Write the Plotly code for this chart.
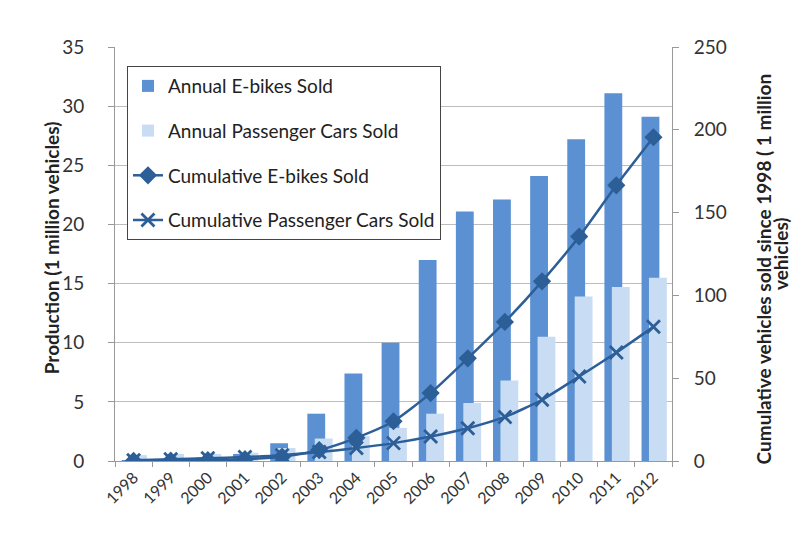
import plotly.graph_objects as go

years = [str(y) for y in range(1998, 2013)]
annual_ebikes = [0.05, 0.15, 0.3, 0.6, 1.5, 4.0, 7.4, 10.0, 17.0, 21.1, 22.1, 24.1, 27.2, 31.1, 29.1]
annual_cars = [0.5, 0.6, 0.6, 0.7, 1.1, 1.9, 2.1, 2.8, 4.0, 4.9, 6.8, 10.5, 13.9, 14.7, 15.5]
cum_ebikes = [0.05, 0.2, 0.5, 1.1, 2.6, 6.6, 14.0, 24.0, 41.0, 62.0, 84.0, 108.5, 135.5, 166.5, 195.5]
cum_cars = [0.5, 1.1, 1.7, 2.4, 3.5, 5.4, 7.8, 10.8, 14.8, 19.8, 26.6, 37.0, 51.0, 65.5, 81.0]

left_ticks = [0, 5, 10, 15, 20, 25, 30, 35]
right_ticks = [0, 50, 100, 150, 200, 250]

left_title = "Production (1 million vehicles)"
right_title_1 = "Cumulative vehicles sold since 1998 ( 1 million"
right_title_2 = "vehicles)"

dark_bar = "#5b90d2"
light_bar = "#c8dcf3"
line_col = "#2c5e98"
font_family = "Lato, 'Open Sans', sans-serif"

fig = go.Figure()
fig.add_trace(go.Bar(
    x=years, y=annual_ebikes, name="Annual E-bikes Sold",
    marker=dict(color=dark_bar, line=dict(width=0)),
    width=0.48, offset=-0.32, legendgroup="a", yaxis="y"))
fig.add_trace(go.Bar(
    x=years, y=annual_cars, name="Annual Passenger Cars Sold",
    marker=dict(color=light_bar, line=dict(width=0)),
    width=0.48, offset=-0.12, legendgroup="b", yaxis="y"))
fig.add_trace(go.Scatter(
    x=years, y=cum_ebikes, name="Cumulative E-bikes Sold", yaxis="y2",
    mode="lines+markers", line=dict(color=line_col, width=2.5, shape="spline", smoothing=0.6),
    marker=dict(symbol="diamond", size=14, color=line_col), legendgroup="c"))
fig.add_trace(go.Scatter(
    x=years, y=cum_cars, name="Cumulative Passenger Cars Sold", yaxis="y2",
    mode="lines+markers", line=dict(color=line_col, width=2.5, shape="spline", smoothing=0.6),
    marker=dict(symbol="x-thin", size=13, color=line_col, line=dict(color=line_col, width=2.8)),
    legendgroup="d"))

title_font = dict(family=font_family, size=19, color="#222222", weight="bold")
fig.add_annotation(text=left_title, xref="paper", yref="paper", x=-0.114, y=0.515,
                   textangle=-90, showarrow=False, font=title_font,
                   xanchor="center", yanchor="middle")
fig.add_annotation(text=right_title_1, xref="paper", yref="paper", x=1.165, y=0.465,
                   textangle=-90, showarrow=False, font=title_font,
                   xanchor="center", yanchor="middle")
fig.add_annotation(text=right_title_2, xref="paper", yref="paper", x=1.194, y=0.5,
                   textangle=-90, showarrow=False, font=title_font,
                   xanchor="center", yanchor="middle")

fig.update_layout(
    width=800, height=534,
    margin=dict(l=107, r=136, t=39, b=81, autoexpand=False),
    paper_bgcolor="white", plot_bgcolor="white",
    barmode="overlay",
    font=dict(family=font_family, color="#222222", size=15),
    showlegend=True,
    legend=dict(
        x=0.0215, y=0.954, xanchor="left", yanchor="top",
        bgcolor="white", bordercolor="#444444", borderwidth=1,
        font=dict(size=19, color="#222222"),
        tracegroupgap=17, traceorder="grouped",
        itemwidth=30,
    ),
    xaxis=dict(
        type="category", showgrid=False,
        showline=True, linecolor="#999999", linewidth=1,
        ticks="outside", tickson="boundaries", ticklen=5, tickcolor="#999999",
        tickangle=-45, tickfont=dict(size=16, color="#333333"),
        range=[-0.5, 14.5],
    ),
    yaxis=dict(
        range=[0, 35], tickvals=left_ticks,
        showgrid=True, gridcolor="#bdbdbd", gridwidth=1,
        showline=True, linecolor="#999999", linewidth=1,
        ticks="outside", ticklen=6, tickcolor="#999999",
        tickfont=dict(size=19, color="#333333"),
        ticklabelstandoff=20,
        zeroline=False,
    ),
    yaxis2=dict(
        range=[0, 250], tickvals=right_ticks, overlaying="y", side="right",
        showgrid=False, showline=True, linecolor="#999999", linewidth=1,
        ticks="outside", ticklen=6, tickcolor="#999999",
        tickfont=dict(size=19, color="#333333"),
        ticklabelstandoff=11,
        zeroline=False,
    ),
)

fig.write_html("out.html")
